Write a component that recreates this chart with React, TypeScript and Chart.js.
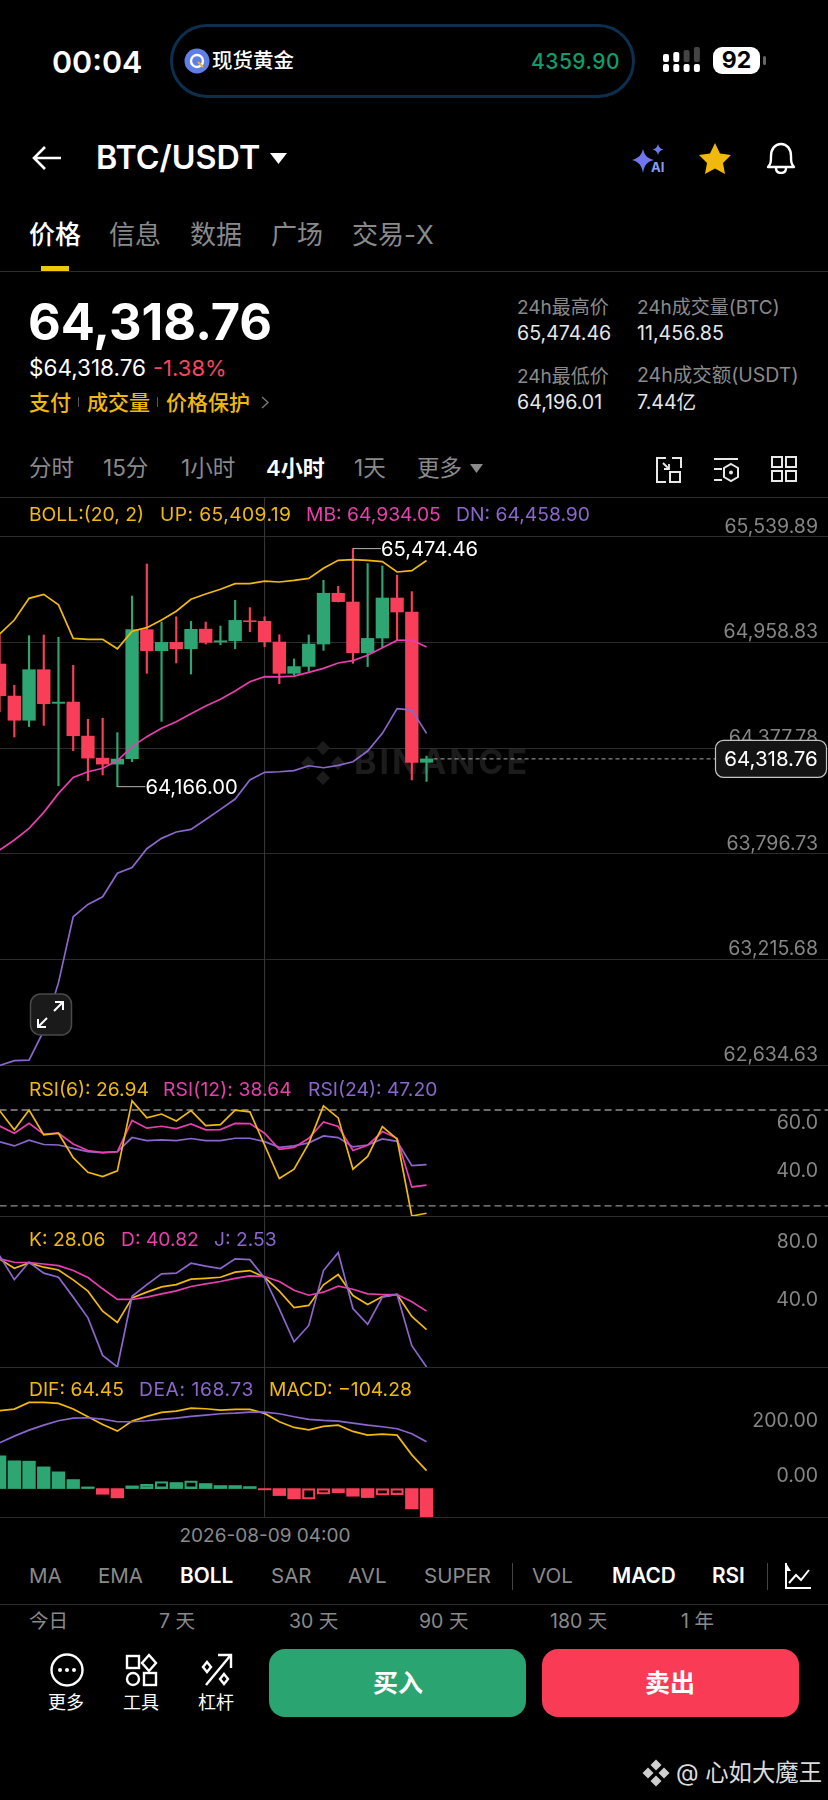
import React, { useEffect, useRef } from "react";
import { Chart, registerables } from "chart.js";

Chart.register(...registerables);

const categories = [
  "2026-08-06 04:00", "2026-08-06 08:00", "2026-08-06 12:00", "2026-08-06 16:00", "2026-08-06 20:00",
  "2026-08-07 00:00", "2026-08-07 04:00", "2026-08-07 08:00", "2026-08-07 12:00", "2026-08-07 16:00", "2026-08-07 20:00",
  "2026-08-08 00:00", "2026-08-08 04:00", "2026-08-08 08:00", "2026-08-08 12:00", "2026-08-08 16:00", "2026-08-08 20:00",
  "2026-08-09 00:00", "2026-08-09 04:00", "2026-08-09 08:00", "2026-08-09 12:00", "2026-08-09 16:00", "2026-08-09 20:00",
  "2026-08-10 00:00", "2026-08-10 04:00", "2026-08-10 08:00", "2026-08-10 12:00", "2026-08-10 16:00", "2026-08-10 20:00",
  "2026-08-11 00:00",
];
const crossIndex = 18;

const opens = [64840, 64664, 64531, 64809, 64624, 64631, 64444, 64323, 64290, 64320, 65029, 64913, 64959, 64924, 65032, 64961, 64968, 65078, 65075, 64961, 64789, 64827, 64950, 65229, 65181, 64902, 64983, 65203, 65126, 64300];
const highs = [65000, 64723, 64996, 65000, 64987, 64833, 64536, 64542, 64463, 65214, 65390, 65071, 65100, 65075, 65071, 65049, 65190, 65150, 65100, 65001, 64868, 65000, 65300, 65267, 65474.46, 65392, 65379, 65329, 65238, 64334];
const lows = [64578, 64439, 64496, 64503, 64171, 64364, 64199, 64230, 64166, 64303, 64789, 64525, 64846, 64785, 64950, 64946, 64924, 65018, 64935, 64732, 64780, 64800, 64915, 65181, 64844, 64826, 64932, 64972, 64203, 64195];
const closes = [64666, 64531, 64809, 64622, 64631, 64446, 64323, 64290, 64318, 65029, 64913, 64959, 64924, 65031, 64959, 64968, 65080, 65073, 64963, 64789, 64826, 64950, 65229, 65183, 64902, 64981, 65203, 65126, 64300, 64318.76];

const bollUp = [65005, 65082, 65201, 65223, 65165, 64981, 64976, 64976, 64924, 65020, 65040, 65082, 65130, 65196, 65225, 65251, 65282, 65282, 65296, 65291, 65300, 65311, 65366, 65410, 65414, 65410, 65403, 65346, 65353, 65409.19];
const bollMid = [63818, 63873, 63937, 64025, 64129, 64217, 64248, 64267, 64309, 64386, 64441, 64487, 64523, 64567, 64609, 64646, 64692, 64743, 64771, 64769, 64774, 64794, 64816, 64846, 64859, 64888, 64930, 64970, 64972, 64934.05];
const bollDn = [62634, 62660, 62663, 62825, 63089, 63451, 63519, 63561, 63690, 63722, 63825, 63882, 63917, 63931, 63986, 64041, 64098, 64203, 64245, 64248, 64254, 64281, 64270, 64283, 64303, 64362, 64459, 64595, 64587, 64458.9];

const rsi6 = [69.7, 61.7, 70.0, 59.6, 60.3, 50.1, 44.0, 42.2, 44.6, 73.8, 66.7, 68.3, 65.4, 69.7, 63.5, 63.9, 69.9, 69.2, 55.4, 41.4, 45.3, 56.1, 71.7, 66.7, 45.3, 50.6, 63.1, 57.8, 25.8, 26.94];
const rsi12 = [63.3, 60.3, 64.4, 59.9, 60.3, 55.8, 53.1, 52.2, 52.6, 65.6, 62.4, 63.2, 62.2, 64.2, 61.7, 61.8, 64.4, 64.3, 60.3, 53.6, 54.4, 58.2, 65.0, 63.1, 53.1, 55.3, 61.0, 58.2, 37.9, 38.64];
const rsi24 = [56.7, 55.0, 57.4, 55.6, 55.4, 54.0, 52.6, 52.2, 52.6, 58.5, 57.2, 57.5, 57.2, 58.1, 57.2, 57.2, 58.2, 58.2, 56.8, 54.4, 55.0, 56.3, 59.2, 58.5, 54.6, 55.4, 57.9, 56.9, 46.8, 47.2];
const rsiBands = [70, 30];

const kLine = [76.6, 70.2, 73.8, 70.9, 69.0, 62.2, 54.5, 40.8, 33.0, 49.9, 53.8, 57.4, 59.0, 62.7, 63.3, 64.0, 67.5, 68.6, 64.0, 54.5, 43.3, 44.7, 58.8, 65.9, 51.5, 45.4, 50.8, 52.2, 37.2, 28.06];
const dLine = [76.6, 74.3, 74.1, 73.1, 72.0, 68.6, 63.8, 56.1, 48.8, 48.8, 50.4, 52.6, 54.7, 57.7, 59.5, 61.1, 63.3, 64.9, 64.5, 61.1, 55.1, 51.7, 53.8, 57.9, 55.8, 52.6, 52.2, 52.2, 47.2, 40.82];
const jLine = [78.8, 62.4, 74.3, 66.8, 64.0, 50.4, 36.2, 10.5, 2.53, 51.0, 59.0, 66.3, 66.8, 73.6, 71.6, 70.0, 76.6, 76.1, 63.6, 42.4, 19.8, 31.0, 68.6, 80.9, 42.6, 31.7, 50.4, 52.2, 17.1, 2.53];

const difLine = [280.4, 286.4, 310.5, 310.5, 306.9, 286.4, 258.7, 231.0, 207.0, 243.1, 259.9, 274.4, 279.2, 290.0, 287.6, 282.8, 285.2, 285.2, 270.8, 240.7, 220.2, 211.8, 223.8, 228.6, 205.8, 192.5, 196.1, 192.5, 121.5, 64.45];
const deaLine = [164.9, 188.9, 210.6, 228.6, 244.3, 253.9, 255.1, 250.3, 240.7, 240.7, 244.3, 249.1, 253.9, 259.9, 264.7, 269.6, 272.0, 275.6, 275.6, 269.6, 258.7, 249.1, 245.5, 243.1, 235.9, 228.6, 222.6, 215.4, 197.4, 168.73];
const macdHist = [117.9, 99.9, 98.7, 78.2, 60.2, 32.5, 6.0, -20.5, -33.7, 9.6, 15.6, 25.3, 21.7, 27.7, 18.1, 10.8, 10.8, 7.2, -4.8, -25.3, -37.3, -38.5, -20.5, -14.4, -27.7, -32.5, -24.1, -21.7, -73.4, -104.28];
const hollowBars = [10, 11, 13, 21, 22, 23, 26, 27];

const priceTicks = [65539.89, 64958.83, 64377.78, 63796.73, 63215.68, 62634.63];
const rsiTicks = [60, 40];
const kdjTicks = [80, 40];
const macdTicks = [200, 0];

const GREEN = "#2ea673";
const RED = "#f83e58";
const YEL = "#f0b90b";
const PINK = "#e83fae";
const PUR = "#8b66cc";
const GRID = "#2c2c2c";
const AXIS = "#858585";
const FONT = "Inter, 'Noto Sans CJK SC', sans-serif";

const fmt2 = (v: number) => v.toLocaleString("en-US", { minimumFractionDigits: 2, maximumFractionDigits: 2 });
const fmt1 = (v: number) => v.toFixed(1);
const pts = (a: number[]) => a.map((y, x) => ({ x, y }));
const line = (data: number[], color: string) => ({
  type: "line",
  data: pts(data),
  borderColor: color,
  borderWidth: 1.7,
  pointRadius: 0,
  tension: 0,
  order: 0,
});

const crosshair = {
  id: "crosshair",
  beforeDatasetsDraw(c: any) {
    const x = c.scales.x.getPixelForValue(crossIndex);
    const g = c.ctx;
    g.save();
    g.strokeStyle = "#3a3a3a";
    g.lineWidth = 1;
    g.beginPath();
    g.moveTo(x, 0);
    g.lineTo(x, c.height);
    g.stroke();
    g.restore();
  },
};

const priceOverlay = {
  id: "priceOverlay",
  beforeDatasetsDraw(c: any) {
    const g = c.ctx;
    const cy = c.scales.y.getPixelForValue(closes[29]) + 4;
    g.save();
    g.fillStyle = "#1c1c1c";
    const cx = 323;
    const d = [[0, -15], [-15, 0], [15, 0], [0, 15]];
    d.forEach(([dx, dy]) => {
      g.beginPath();
      g.moveTo(cx + dx, cy + dy - 7);
      g.lineTo(cx + dx + 7, cy + dy);
      g.lineTo(cx + dx, cy + dy + 7);
      g.lineTo(cx + dx - 7, cy + dy);
      g.closePath();
      g.fill();
    });
    g.font = `700 34px ${FONT}`;
    g.textAlign = "left";
    g.textBaseline = "middle";
    g.letterSpacing = "3px";
    g.fillText("BINANCE", 354, cy + 1);
    g.restore();
  },
  afterDatasetsDraw(c: any) {
    const g = c.ctx;
    const xs = c.scales.x;
    const ys = c.scales.y;
    g.save();
    g.font = `400 20.2px ${FONT}`;
    g.textBaseline = "middle";
    g.textAlign = "left";
    g.lineWidth = 1;
    const maxI = highs.indexOf(Math.max(...highs));
    const minI = lows.indexOf(Math.min(...lows));
    const mx = xs.getPixelForValue(maxI);
    const my = ys.getPixelForValue(highs[maxI]);
    g.strokeStyle = "#b5b5b5";
    g.beginPath();
    g.moveTo(mx, my);
    g.lineTo(mx + 28, my);
    g.stroke();
    g.fillStyle = "#fff";
    g.fillText(fmt2(highs[maxI]), mx + 28, my + 1);
    const nx = xs.getPixelForValue(minI);
    const ny = ys.getPixelForValue(lows[minI]);
    g.beginPath();
    g.moveTo(nx, ny);
    g.lineTo(nx + 28, ny);
    g.stroke();
    g.fillText(fmt2(lows[minI]), nx + 28, ny + 1);

    const last = closes[closes.length - 1];
    const ly = ys.getPixelForValue(last);
    const lx = xs.getPixelForValue(closes.length - 1);
    g.strokeStyle = "#a8a8a8";
    g.setLineDash([4, 3]);
    g.beginPath();
    g.moveTo(lx + 7, ly);
    g.lineTo(715, ly);
    g.stroke();
    g.setLineDash([]);
    g.fillStyle = "#141414";
    g.strokeStyle = "#c4c4c4";
    g.lineWidth = 1.2;
    g.beginPath();
    g.roundRect(715.5, ly - 18.5, 111, 37, 8);
    g.fill();
    g.stroke();
    g.fillStyle = "#fff";
    g.textAlign = "center";
    g.font = `400 20.5px ${FONT}`;
    g.fillText(fmt2(last), 771, ly + 1);
    g.restore();
  },
};

function yAxis(min: number, max: number, ticks: number[], fmt: (v: number) => string, grid: boolean, labelOffset = -12) {
  return {
    position: "right",
    min,
    max,
    bounds: "data",
    border: { display: false },
    grid: { display: grid, color: GRID, lineWidth: 1, drawTicks: false },
    ticks: {
      mirror: true,
      padding: -10,
      labelOffset,
      autoSkip: false,
      color: AXIS,
      font: { family: FONT, size: 19.5 },
      callback: (v: any) => fmt(Number(v)),
    },
    afterBuildTicks: (s: any) => {
      s.ticks = ticks.map((value) => ({ value }));
    },
    afterFit: (s: any) => {
      s.width = 0;
      s.paddingTop = 0;
      s.paddingBottom = 0;
      s.paddingLeft = 0;
      s.paddingRight = 0;
    },
  };
}

const priceDatasets = () => [
  line(bollUp, YEL),
  line(bollMid, PINK),
  line(bollDn, PUR),
  {
    type: "bar",
    data: opens.map((o, x) => ({ x, y: [o, closes[x]] })),
    grouped: false,
    barThickness: 12.7,
    backgroundColor: (ctx: any) => (closes[ctx.dataIndex] >= opens[ctx.dataIndex] ? GREEN : RED),
    order: 1,
  },
  {
    type: "bar",
    data: highs.map((h, x) => ({ x, y: [lows[x], h] })),
    grouped: false,
    barThickness: 1.5,
    backgroundColor: (ctx: any) => (closes[ctx.dataIndex] >= opens[ctx.dataIndex] ? GREEN : RED),
    order: 2,
  },
];

const rsiDatasets = () => [
  line(rsi6, YEL),
  line(rsi12, PINK),
  line(rsi24, PUR),
  ...rsiBands.map((b) => ({
    type: "line",
    data: [{ x: 0, y: b }, { x: 57, y: b }],
    borderColor: "#8f8f8f",
    borderWidth: 1.4,
    borderDash: [7, 4],
    pointRadius: 0,
    order: 3,
  })),
];

const kdjDatasets = () => [line(jLine, PUR), line(dLine, PINK), line(kLine, YEL)];

const macdDatasets = () => [
  line(deaLine, PUR),
  line(difLine, YEL),
  {
    type: "bar",
    data: pts(macdHist),
    grouped: false,
    barThickness: 12.7,
    borderSkipped: false,
    borderWidth: (ctx: any) => (hollowBars.includes(ctx.dataIndex) ? 1.6 : 0),
    borderColor: (ctx: any) => (macdHist[ctx.dataIndex] >= 0 ? GREEN : RED),
    backgroundColor: (ctx: any) =>
      hollowBars.includes(ctx.dataIndex) ? "rgba(0,0,0,0)" : macdHist[ctx.dataIndex] >= 0 ? GREEN : RED,
    order: 1,
  },
];

function Panel({ top, height, datasets, y, plugins }: any) {
  const ref = useRef<HTMLCanvasElement>(null);
  useEffect(() => {
    const chart = new Chart(ref.current as any, {
      type: "bar",
      data: { datasets: datasets() },
      options: {
        animation: false,
        responsive: false,
        layout: { padding: 0 },
        plugins: { legend: { display: false }, tooltip: { enabled: false } },
        scales: {
          x: { type: "linear", min: 0.027, max: 56.27, bounds: "data", display: false, offset: false, grid: { offset: false } },
          y,
        },
      } as any,
      plugins: [crosshair, ...(plugins || [])],
    } as any);
    return () => chart.destroy();
  }, []);
  return (
    <canvas
      ref={ref}
      width={828}
      height={height}
      style={{ position: "absolute", left: 0, top, width: 828, height }}
    />
  );
}

function T({ x, y, s = 20, c = "#fff", w = 400, a = "left", ls, children }: any) {
  const tx = a === "center" ? "-50%" : a === "right" ? "-100%" : "0";
  return (
    <div
      style={{
        position: "absolute",
        left: x,
        top: y,
        transform: `translate(${tx},-50%)`,
        fontSize: s,
        color: c,
        fontWeight: w,
        whiteSpace: "nowrap",
        lineHeight: 1,
        letterSpacing: ls,
        zIndex: 3,
      }}
    >
      {children}
    </div>
  );
}

function HLine({ y, c = GRID }: any) {
  return <div style={{ position: "absolute", left: 0, width: 828, top: y, height: 1, background: c }} />;
}

function Svg({ x, y, w, h, vb, children }: any) {
  return (
    <svg
      style={{ position: "absolute", left: x, top: y, zIndex: 3 }}
      width={w}
      height={h}
      viewBox={vb || `0 0 ${w} ${h}`}
      fill="none"
    >
      {children}
    </svg>
  );
}

const GRAY = "#8a8a8a";

export default function App() {
  useEffect(() => {
    document.body.style.margin = "0";
    document.body.style.background = "#000";
  }, []);
  const intervals: [string, number][] = [["分时", 29], ["15分", 103], ["1小时", 181], ["1天", 354], ["更多", 417]];
  const tabs: [string, number][] = [["信息", 109], ["数据", 190], ["广场", 271], ["交易-X", 352]];
  const inds: [string, number, boolean][] = [
    ["MA", 29, false], ["EMA", 98, false], ["BOLL", 180, true], ["SAR", 271, false], ["AVL", 348, false],
    ["SUPER", 424, false], ["VOL", 532, false], ["MACD", 612, true], ["RSI", 712, true],
  ];
  const ranges: [string, number][] = [["今日", 29], ["7 天", 159], ["30 天", 289], ["90 天", 419], ["180 天", 550], ["1 年", 681]];
  return (
    <div style={{ position: "absolute", left: 0, top: 0, width: 828, height: 1800, background: "#000", fontFamily: FONT, overflow: "hidden" }}>
      {/* status bar */}
      <T x={52} y={62} s={30.5} w={600}>00:04</T>
      <div style={{ position: "absolute", left: 170, top: 24, width: 465, height: 74, boxSizing: "border-box", border: "3px solid #0d2f4e", borderRadius: 38 }} />
      <Svg x={184} y={48} w={26} h={26}>
        <circle cx={13} cy={13} r={12.5} fill="#5f7fe6" />
        <circle cx={13} cy={13} r={6} stroke="#fff" strokeWidth={2.4} />
        <path d="M14 14l5 5" stroke="#f0b90b" strokeWidth={2} />
      </Svg>
      <T x={212} y={61} s={20.5} w={500}>现货黄金</T>
      <T x={620} y={61} s={21} w={500} c="#0f9d6b" a="right" ls={0.5}>4359.90</T>
      <Svg x={662} y={46} w={40} h={28}>
        {[0, 1, 2, 3].map((i) => <rect key={i} x={1 + i * 10.3} y={18} width={6} height={8} rx={2} fill="#fff" />)}
        <rect x={1} y={8} width={6} height={8} rx={2} fill="#fff" />
        <rect x={11.3} y={6} width={6} height={10} rx={2} fill="#fff" />
        <rect x={21.6} y={4} width={6} height={12} rx={2} fill="#444" />
        <rect x={31.9} y={1} width={6} height={15} rx={2} fill="#444" />
      </Svg>
      <div style={{ position: "absolute", left: 713, top: 47, width: 47, height: 27, borderRadius: 9, background: "#fff", color: "#000", fontWeight: 700, fontSize: 23, lineHeight: "27px", textAlign: "center" }}>92</div>
      <div style={{ position: "absolute", left: 763, top: 56, width: 3, height: 9, borderRadius: 2, background: "#666" }} />

      {/* nav */}
      <Svg x={32} y={145} w={30} h={26}>
        <path d="M29 13H2M13 2L2 13l11 11" stroke="#fff" strokeWidth={2.6} />
      </Svg>
      <T x={96} y={158} s={32.3} w={600}>BTC/USDT</T>
      <Svg x={270} y={153} w={17} h={11}><path d="M0 0h17L8.5 11z" fill="#fff" /></Svg>
      <Svg x={631} y={143} w={36} h={31}>
        <path d="M12 6c1.5 6 3.5 9 11 11-7.5 2-9.5 5-11 13-1.5-8-4-11-11-13 7-2 9.5-5 11-11z" fill="#7076ee" />
        <path d="M27 1c.7 3 2 4.500 5.500 5.500C29 7.500 27.700 9 27 12c-.7-3-2-4.500-5.500-5.500C25 5.500 26.300 4 27 1z" fill="#6f78ef" />
        <text x={20} y={29} fontSize={13} fontWeight={700} fill="#8d9cf5" fontFamily={FONT}>AI</text>
      </Svg>
      <Svg x={698} y={142} w={34} h={32}>
        <path d="M17 1l5 10.500 11 1.500-8 8 2 11-10-5.500L7 32l2-11-8-8 11-1.500z" fill="#f0b90b" />
      </Svg>
      <Svg x={765} y={142} w={32} h={32}>
        <path d="M3 25c3-3 3-6 3-11C6 7 10 2 16 2s10 5 10 12c0 5 0 8 3 11z" stroke="#fff" strokeWidth={2.4} strokeLinejoin="round" />
        <path d="M11 26c0 3 2 5 5 5s5-2 5-5" stroke="#fff" strokeWidth={2.4} />
      </Svg>

      {/* tabs */}
      <T x={29} y={235} s={26} w={500}>价格</T>
      {tabs.map(([t, x]) => <T key={t} x={x} y={235} s={26} c={GRAY}>{t}</T>)}
      <div style={{ position: "absolute", left: 41, top: 266, width: 28, height: 5, background: "#f0c80b" }} />
      <HLine y={271} />

      {/* quote */}
      <T x={28} y={322} s={50.5} w={700}>64,318.76</T>
      <T x={29} y={368} s={22.5}>$64,318.76</T>
      <T x={153} y={368} s={22} c="#f6465d">-1.38%</T>
      <T x={29} y={402} s={21} c={YEL} w={500}>支付</T>
      <T x={87} y={402} s={21} c={YEL} w={500}>成交量</T>
      <T x={166} y={402} s={21} c={YEL} w={500}>价格保护</T>
      <div style={{ position: "absolute", left: 78, top: 397, width: 1, height: 10, background: "#555" }} />
      <div style={{ position: "absolute", left: 157, top: 397, width: 1, height: 10, background: "#555" }} />
      <Svg x={261} y={396} w={9} h={13}><path d="M1 1l6 5.500-6 5.500" stroke="#777" strokeWidth={1.4} /></Svg>
      <T x={517} y={307} s={19} c={GRAY}>24h最高价</T>
      <T x={637} y={307} s={19} c={GRAY}>24h成交量(BTC)</T>
      <T x={517} y={334} s={19.6} c="#e6e6e6">65,474.46</T>
      <T x={637} y={334} s={19.6} c="#e6e6e6">11,456.85</T>
      <T x={517} y={376} s={19} c={GRAY}>24h最低价</T>
      <T x={637} y={376} s={19.5} c={GRAY}>24h成交额(USDT)</T>
      <T x={517} y={403} s={19.6} c="#e6e6e6">64,196.01</T>
      <T x={637} y={403} s={19.6} c="#e6e6e6">7.44亿</T>

      {/* intervals */}
      {intervals.map(([t, x]) => <T key={t} x={x} y={468} s={22.5} c={GRAY}>{t}</T>)}
      <T x={266} y={468} s={22} w={600}>4小时</T>
      <Svg x={470} y={464} w={13} h={9}><path d="M0 0h13L6.500 9z" fill="#8a8a8a" /></Svg>
      <Svg x={655} y={456} w={28} h={28}>
        <path d="M11 2H2v24h9M17 2h9v10" stroke="#e8e8e8" strokeWidth={2} />
        <rect x={15} y={16} width={10} height={10} stroke="#e8e8e8" strokeWidth={2} />
        <path d="M8 7l6 6M14 8v5H9" stroke="#e8e8e8" strokeWidth={1.8} />
      </Svg>
      <Svg x={712} y={456} w={28} h={28}>
        <path d="M2 3h24M2 13h8M2 24h8" stroke="#e8e8e8" strokeWidth={2} />
        <path d="M19 8l7 4v9l-7 4-7-4v-9z" stroke="#e8e8e8" strokeWidth={2} />
        <circle cx={19} cy={16.500} r={2} fill="#e8e8e8" />
      </Svg>
      <Svg x={771} y={456} w={28} h={28}>
        {[[1, 1], [15, 1], [1, 15], [15, 15]].map(([x, y]) => <rect key={`${x}${y}`} x={x} y={y} width={10} height={10} stroke="#e8e8e8" strokeWidth={2} />)}
      </Svg>

      {/* chart lines */}
      <HLine y={497} />
      <HLine y={1216} />
      <HLine y={1367} />
      <HLine y={1517} />

      <Panel
        top={497}
        height={570}
        datasets={priceDatasets}
        y={yAxis(62625.3, 65758.1, priceTicks, fmt2, true, -10)}
        plugins={[priceOverlay]}
      />
      <Panel top={1067} height={149} datasets={rsiDatasets} y={yAxis(25.8, 87.9, rsiTicks, fmt1, false, -11)} />
      <Panel top={1217} height={150} datasets={kdjDatasets} y={yAxis(2.53, 105.3, kdjTicks, fmt1, false)} />
      <Panel top={1367} height={150} datasets={macdDatasets} y={yAxis(-102.5, 438, macdTicks, fmt2, false)} />

      {/* legends */}
      <T x={29} y={515} s={19.3} c={YEL}>BOLL:(20, 2)</T>
      <T x={160} y={515} s={19.3} c={YEL} ls={0.4}>UP: 65,409.19</T>
      <T x={306} y={515} s={19.3} c={PINK}>MB: 64,934.05</T>
      <T x={456} y={515} s={19.3} c={PUR}>DN: 64,458.90</T>
      <T x={29} y={1090} s={19.3} c={YEL}>RSI(6): 26.94</T>
      <T x={163} y={1090} s={19.3} c={PINK} ls={0.1}>RSI(12): 38.64</T>
      <T x={308} y={1090} s={19.3} c={PUR}>RSI(24): 47.20</T>
      <T x={29} y={1240} s={19.3} c={YEL}>K: 28.06</T>
      <T x={121} y={1240} s={19.3} c={PINK}>D: 40.82</T>
      <T x={214} y={1240} s={19.3} c={PUR}>J: 2.53</T>
      <T x={29} y={1390} s={19.3} c={YEL}>DIF: 64.45</T>
      <T x={139} y={1390} s={19.3} c={PUR} ls={0.55}>DEA: 168.73</T>
      <T x={269} y={1390} s={19.3} c={YEL}>MACD: −104.28</T>

      {/* expand button */}
      <Svg x={29} y={993} w={44} h={44}>
        <rect x={1.500} y={1} width={41} height={41} rx={10} fill="#1a1a1a" stroke="#4a4a4a" strokeWidth={1.5} />
        <path d="M25 18l8-8M26 9h8v8M18 25l-8 8M9 26v8h8" stroke="#fff" strokeWidth={2} />
      </Svg>

      {/* bottom */}
      <T x={265} y={1535} s={19} c={GRAY} a="center">{categories[crossIndex]}</T>
      {inds.map(([t, x, on]) => <T key={t} x={x} y={1576} s={on ? 20.8 : 20.5} c={on ? "#fff" : GRAY} w={on ? 600 : 400}>{t}</T>)}
      <div style={{ position: "absolute", left: 512, top: 1563, width: 1, height: 27, background: "#444" }} />
      <div style={{ position: "absolute", left: 767, top: 1563, width: 1, height: 27, background: "#444" }} />
      <Svg x={784} y={1562} w={28} h={28}>
        <path d="M2 1v25h25" stroke="#fff" strokeWidth={2} />
        <path d="M5 21l7-8 5 5 8-10" stroke="#fff" strokeWidth={2} />
        <path d="M2 1l5 8H2z" fill="#fff" />
      </Svg>
      <HLine y={1604} />
      {ranges.map(([t, x]) => <T key={t} x={x} y={1622} s={19.5} c={GRAY}>{t}</T>)}

      <Svg x={50} y={1653} w={34} h={34}>
        <circle cx={17} cy={17} r={15.500} stroke="#fff" strokeWidth={2.4} />
        {[10, 17, 24].map((x) => <circle key={x} cx={x} cy={17} r={2} fill="#fff" />)}
      </Svg>
      <Svg x={125} y={1653} w={34} h={34}>
        <rect x={2} y={3} width={12} height={12} stroke="#fff" strokeWidth={2.4} />
        <path d="M24 2l7 8-7 8-7-8z" stroke="#fff" strokeWidth={2.4} />
        <circle cx={8} cy={26} r={6} stroke="#fff" strokeWidth={2.4} />
        <rect x={19} y={20} width={12} height={12} stroke="#fff" strokeWidth={2.4} />
      </Svg>
      <Svg x={200} y={1653} w={34} h={34}>
        <path d="M6 32L30 3M18 2h13v13" stroke="#fff" strokeWidth={2.4} />
        <path d="M7 9l4 5-4 5-4-5zM24 21l4 5-4 5-4-5z" stroke="#fff" strokeWidth={2.4} />
      </Svg>
      <T x={66} y={1703} s={18} a="center">更多</T>
      <T x={141} y={1703} s={18} a="center">工具</T>
      <T x={216} y={1703} s={18} a="center">杠杆</T>
      <div style={{ position: "absolute", left: 269, top: 1649, width: 257, height: 68, borderRadius: 16, background: "#2aa572" }} />
      <div style={{ position: "absolute", left: 542, top: 1649, width: 257, height: 68, borderRadius: 16, background: "#fa3b56" }} />
      <T x={398} y={1683} s={25} w={700} a="center">买入</T>
      <T x={670} y={1683} s={25} w={700} a="center">卖出</T>

      <Svg x={642} y={1759} w={28} h={28}>
        {[[14, 6], [6, 14], [22, 14], [14, 22]].map(([x, y]) => (
          <path key={`${x}${y}`} d={`M${x} ${y - 5.500}l5.500 5.500-5.500 5.500-5.500-5.500z`} fill="#cfcfcf" />
        ))}
      </Svg>
      <T x={676} y={1773} s={23.4} c="#dcdcdc">@ 心如大魔王</T>
    </div>
  );
}
